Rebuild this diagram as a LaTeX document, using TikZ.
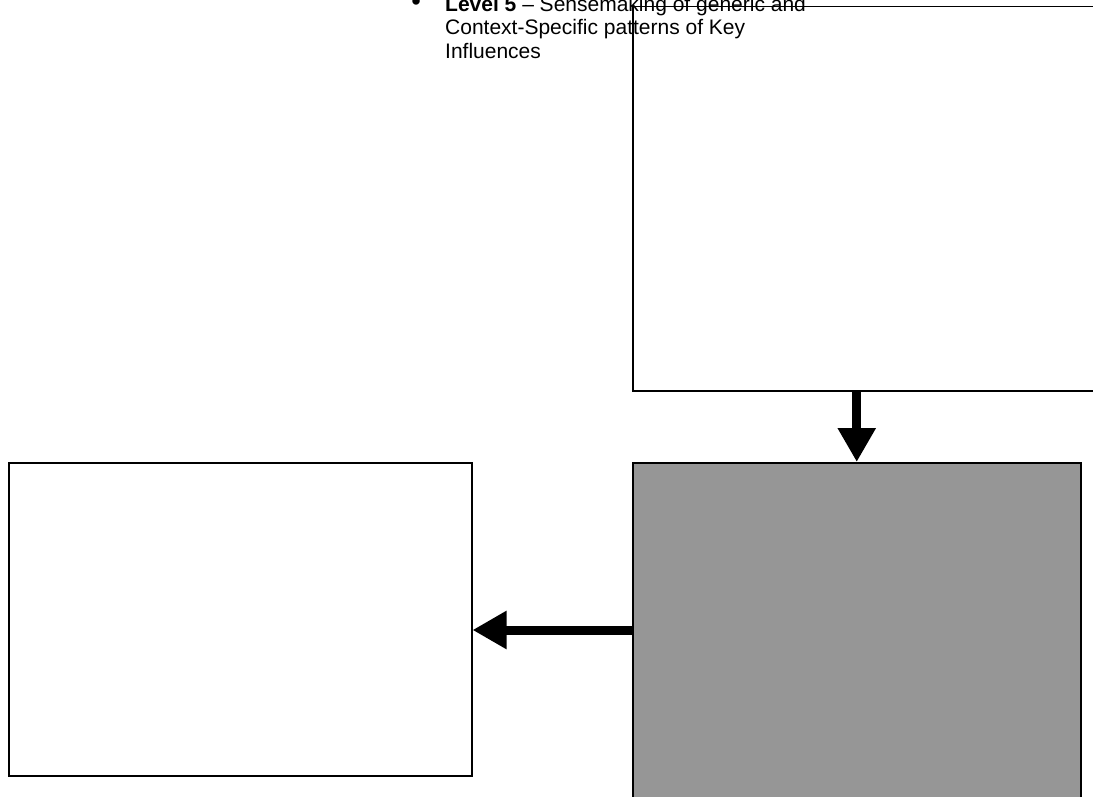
\documentclass[tikz,border=0pt]{standalone}
\usepackage{fontspec}
\setmainfont{Liberation Sans}
\usetikzlibrary{arrows.meta}
\definecolor{boxgray}{HTML}{969696}
\tikzset{
  plainbox/.style={draw=black, line width=1.5pt, inner sep=0pt, anchor=north west},
  fatarrow/.style={line width=9pt, -{Triangle[width=36pt,length=34pt]}},
  txt/.style={inner sep=0pt, font=\fontsize{21pt}{23.5pt}\selectfont}
}
\begin{document}
\begin{tikzpicture}[x=1pt,y=-1pt]
\useasboundingbox (0,0) rectangle (1093,797);
\clip (0,0) rectangle (1093,797);
\node[txt, anchor=base west, scale=1.3] (bul) at (411,11) {•};
\node[txt, anchor=north west, align=left] (lvl) at (445,-4) {\textbf{Level 5} – Sensemaking of generic and\\Context-Specific patterns of Key\\Influences};
\node[plainbox, minimum width=500pt, minimum height=384pt] (top) at (632,6) {};
\node[plainbox, fill=boxgray, minimum width=448pt, minimum height=380pt] (gray) at (632,462) {};
\node[plainbox, minimum width=463pt, minimum height=313pt] (left) at (8,462) {};
\coordinate (ay) at (0,630);
\draw[fatarrow] (top.south -| gray.north) -- (gray.north);
\draw[fatarrow] (gray.west |- ay) -- (left.east |- ay);
\end{tikzpicture}
\end{document}
